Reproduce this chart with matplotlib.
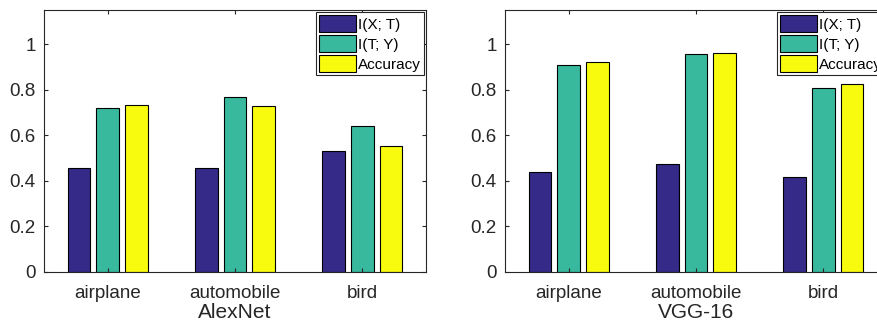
import matplotlib
matplotlib.use('Agg')
import matplotlib.pyplot as plt
import numpy as np

categories = ['airplane', 'automobile', 'bird']
series = ['I(X; T)', 'I(T; Y)', 'Accuracy']
colors = ['#352A87', '#38B99E', '#F9FB0E']

alexnet_ixt = [0.455, 0.455, 0.530]
alexnet_ity = [0.720, 0.770, 0.640]
alexnet_acc = [0.734, 0.730, 0.555]

vgg_ixt = [0.437, 0.472, 0.417]
vgg_ity = [0.909, 0.959, 0.808]
vgg_acc = [0.921, 0.962, 0.823]

plt.rcParams['font.family'] = ['Liberation Sans', 'DejaVu Sans']

fig = plt.figure(figsize=(8.78, 3.22), dpi=100)
W, H = 878.0, 322.0
ax1 = fig.add_axes([44 / W, 1 - 272 / H, 382 / W, 262 / H])
ax2 = fig.add_axes([505 / W, 1 - 272 / H, 382 / W, 262 / H])


def draw(ax, data, xlabel):
    x = np.arange(1, len(categories) + 1)
    offsets = [-0.225, 0, 0.225]
    for vals, off, c, name in zip(data, offsets, colors, series):
        ax.bar(x + off, vals, 0.18, color=c, edgecolor='black',
               linewidth=0.8, label=name)
    ax.set_xlim(0.5, 3.5)
    ax.set_ylim(0, 1.15)
    ax.set_xticks(x)
    ax.set_xticklabels(categories)
    ax.set_yticks([0, 0.2, 0.4, 0.6, 0.8, 1])
    ax.set_yticklabels(['0', '0.2', '0.4', '0.6', '0.8', '1'])
    ax.tick_params(direction='in', length=3, top=True, right=True,
                   labelsize=13.5, colors='#262626')
    ax.tick_params(axis='x', pad=9)
    ax.tick_params(axis='y', pad=6)
    for s in ax.spines.values():
        s.set_color('#262626')
        s.set_linewidth(0.8)
    ax.set_xlabel(xlabel, fontsize=15, color='#262626', labelpad=1)
    leg = ax.legend(loc='upper right', fontsize=11, frameon=True,
                    fancybox=False, edgecolor='#262626', framealpha=1,
                    handlelength=2.4, handleheight=1.35, handletextpad=0.15,
                    labelspacing=0.18, borderpad=0.18, borderaxespad=0.15)
    leg.get_frame().set_linewidth(0.8)


draw(ax1, [alexnet_ixt, alexnet_ity, alexnet_acc], 'AlexNet')
draw(ax2, [vgg_ixt, vgg_ity, vgg_acc], 'VGG-16')

plt.savefig('out.png', dpi=100)
